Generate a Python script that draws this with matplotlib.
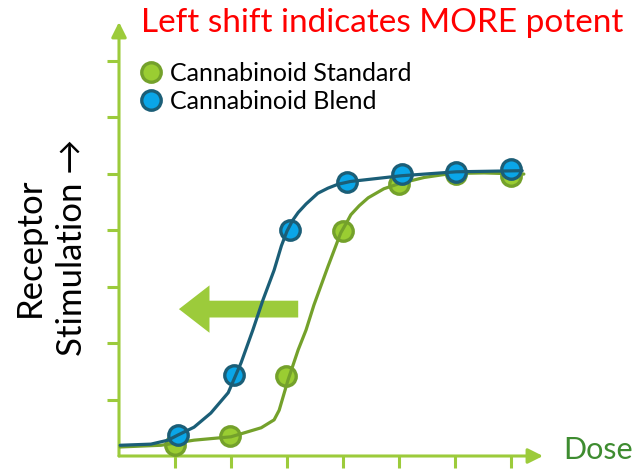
import matplotlib
matplotlib.use("Agg")
import matplotlib.pyplot as plt
from matplotlib.lines import Line2D

# ---- data (dose index vs. receptor stimulation) ----
std_x = [1.0, 1.98, 2.98, 4.0, 5.0, 6.02, 7.0]
std_y = [0.19, 0.35, 1.41, 3.98, 4.81, 5.0, 4.96]
blend_x = [1.05, 2.05, 3.05, 4.07, 5.05, 6.02, 7.0]
blend_y = [0.37, 1.43, 4.0, 4.85, 5.0, 5.02, 5.08]

# fitted curves
std_curve_x = [0.02, 0.75, 1.34, 2.0, 2.54, 2.77, 2.86, 3.02, 3.20, 3.34, 3.48,
               3.73, 3.96, 4.07, 4.14, 4.29, 4.45, 4.73, 5.0, 5.45, 5.93, 6.52, 7.23]
std_curve_y = [0.16, 0.19, 0.28, 0.34, 0.50, 0.64, 0.81, 1.35, 1.88, 2.23, 2.67,
               3.35, 3.95, 4.14, 4.27, 4.43, 4.57, 4.73, 4.82, 4.93, 5.0, 5.01, 4.99]
blend_curve_x = [0.02, 0.57, 0.875, 1.05, 1.34, 1.64, 1.95, 2.18, 2.39, 2.57,
                 2.77, 2.90, 3.00, 3.10, 3.20, 3.34, 3.55, 3.73, 3.91, 4.14, 4.5,
                 5.04, 6.02, 7.2]
blend_curve_y = [0.19, 0.21, 0.28, 0.37, 0.51, 0.76, 1.12, 1.65, 2.23, 2.76,
                 3.29, 3.72, 3.98, 4.17, 4.31, 4.46, 4.65, 4.74, 4.81, 4.86, 4.90,
                 4.96, 5.03, 5.05]

x_ticks = [1, 2, 3, 4, 5, 6, 7]
y_ticks = [1, 2, 3, 4, 5, 6, 7]

series_labels = ["Cannabinoid Standard", "Cannabinoid Blend"]
title_text = "Left shift indicates MORE potent"
x_label = "Dose"
y_label = "Receptor\nStimulation \u2192"

# ---- style ----
AXIS_GREEN = "#9CCB3B"
STD_FILL = "#9ACD32"
STD_EDGE = "#74A12B"
BLEND_FILL = "#0AA6E8"
BLEND_EDGE = "#1B5E77"
DOSE_GREEN = "#3E8C30"

FONT = ["Lato", "DejaVu Sans"]
plt.rcParams["font.family"] = FONT

W, H = 636, 471
fig = plt.figure(figsize=(W / 100, H / 100), dpi=100)

x0, y0 = 119, 456      # pixel position of the origin
x_tip, y_tip = 543, 22  # pixel positions of the arrow tips
ax = fig.add_axes([x0 / W, (H - y0) / H, (x_tip - x0) / W, (y0 - y_tip) / H])
ax.set_xlim(0, (x_tip - x0) / 56.0)
ax.set_ylim(0, (y0 - y_tip) / 56.5)
ax.patch.set_alpha(0)

for s in ax.spines.values():
    s.set_visible(False)

ax.set_xticks(x_ticks)
ax.set_yticks(y_ticks)
ax.set_xticklabels([])
ax.set_yticklabels([])
ax.tick_params(axis="both", direction="out", color=AXIS_GREEN, width=2.2, length=8.5)

# axis lines with arrow heads
ax.annotate("", xy=(1, 0), xytext=(0, 0), xycoords="axes fraction",
            arrowprops=dict(arrowstyle="-|>,head_length=0.9,head_width=0.45",
                            color=AXIS_GREEN, lw=2.2, shrinkA=0, shrinkB=0),
            annotation_clip=False)
ax.annotate("", xy=(0, 1), xytext=(0, 0), xycoords="axes fraction",
            arrowprops=dict(arrowstyle="-|>,head_length=0.9,head_width=0.45",
                            color=AXIS_GREEN, lw=2.2, shrinkA=0, shrinkB=0),
            annotation_clip=False)

# series
ax.plot(std_x, std_y, "o", ms=14, mfc=STD_FILL, mec=STD_EDGE, mew=2.4,
        ls="none", zorder=3, clip_on=False)
ax.plot(std_curve_x, std_curve_y, color=STD_EDGE, lw=2.3, zorder=4,
        solid_joinstyle="round", solid_capstyle="round", clip_on=False)
ax.plot(blend_x, blend_y, "o", ms=14, mfc=BLEND_FILL, mec=BLEND_EDGE, mew=2.4,
        ls="none", zorder=5, clip_on=False)
ax.plot(blend_curve_x, blend_curve_y, color=BLEND_EDGE, lw=2.3, zorder=6,
        solid_joinstyle="round", solid_capstyle="round", clip_on=False)

# big left-pointing arrow
ax.annotate("", xy=(1.07, 2.6), xytext=(3.2, 2.6), xycoords="data",
            arrowprops=dict(arrowstyle="simple,head_length=1.0,head_width=1.55,tail_width=0.55",
                            color=AXIS_GREEN, lw=0, shrinkA=0, shrinkB=0,
                            mutation_scale=22),
            zorder=2)

# legend
handles = [
    Line2D([], [], marker="o", ls="none", ms=14, mfc=STD_FILL, mec=STD_EDGE, mew=2.4),
    Line2D([], [], marker="o", ls="none", ms=14, mfc=BLEND_FILL, mec=BLEND_EDGE, mew=2.4),
]
leg = fig.legend(handles, series_labels, loc="upper left",
                 bbox_to_anchor=(138.5 / W, (H - 62) / H), frameon=False,
                 prop={"family": FONT, "size": 18}, handlelength=1.0,
                 handletextpad=0.26, labelspacing=0.2, borderpad=0,
                 borderaxespad=0)

# texts
fig.text(141 / W, (H - 23) / H, title_text, color="#FF0000", fontsize=24,
         ha="left", va="center", family=FONT)
fig.text(563 / W, (H - 450) / H, x_label, color=DOSE_GREEN, fontsize=22,
         ha="left", va="center", family=FONT)
fig.text(51 / W, (H - 247) / H, y_label, color="black", fontsize=25,
         rotation=90, ha="center", va="center", multialignment="center",
         family=FONT, linespacing=1.4)

fig.savefig("out.png", dpi=100)
